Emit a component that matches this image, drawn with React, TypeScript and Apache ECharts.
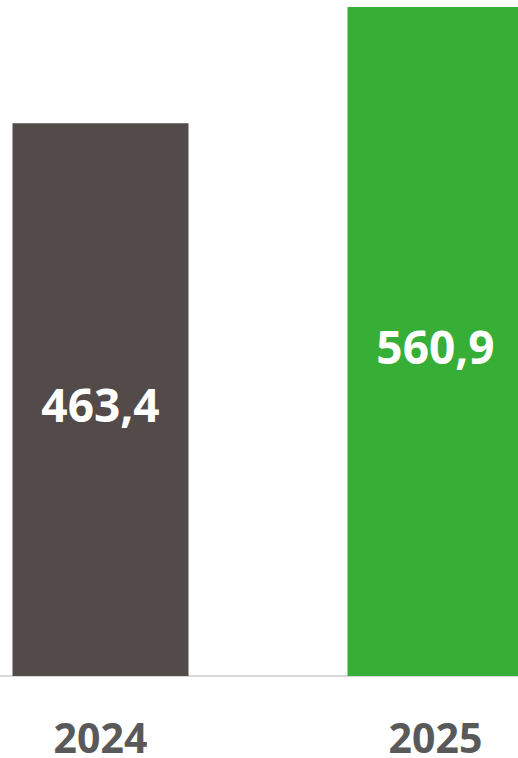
import React, { useEffect, useRef } from "react";
import * as echarts from "echarts";

const categories = ["2024", "2025"];
const values = [463.4, 560.9];
const barColors = ["#534a4a", "#37ae36"];

export default function App() {
  const ref = useRef<HTMLDivElement>(null);
  useEffect(() => {
    if (!ref.current) return;
    const chart = echarts.init(ref.current, undefined, { renderer: "svg" });
    chart.setOption({
      animation: false,
      grid: {
        left: -67,
        top: 7,
        width: 670,
        bottom: 82,
        containLabel: false,
        outerBoundsMode: "none",
      },
      xAxis: {
        type: "category",
        data: categories,
        axisLine: { show: true, lineStyle: { color: "#d9d9d9", width: 2 } },
        axisTick: { show: false },
        axisLabel: {
          margin: 46,
          lineHeight: 30,
          color: "#595959",
          fontSize: 41,
          fontWeight: "bold",
          fontFamily: "Open Sans",
        },
      },
      yAxis: {
        type: "value",
        min: 0,
        max: "dataMax",
        show: false,
        splitLine: { show: false },
      },
      series: [
        {
          type: "bar",
          barWidth: 176,
          data: values.map((v, i) => ({ value: v, itemStyle: { color: barColors[i] } })),
          label: {
            show: true,
            position: "inside",
            offset: [0, 4],
            color: "#ffffff",
            fontSize: 46,
            fontWeight: "bold",
            fontFamily: "Open Sans",
            formatter: (p: any) => String(p.value).replace(".", ","),
          },
        },
      ],
    });
    return () => chart.dispose();
  }, []);
  return (
    <div
      ref={ref}
      style={{ position: "absolute", left: 0, top: 0, width: 518, height: 758 }}
    />
  );
}
